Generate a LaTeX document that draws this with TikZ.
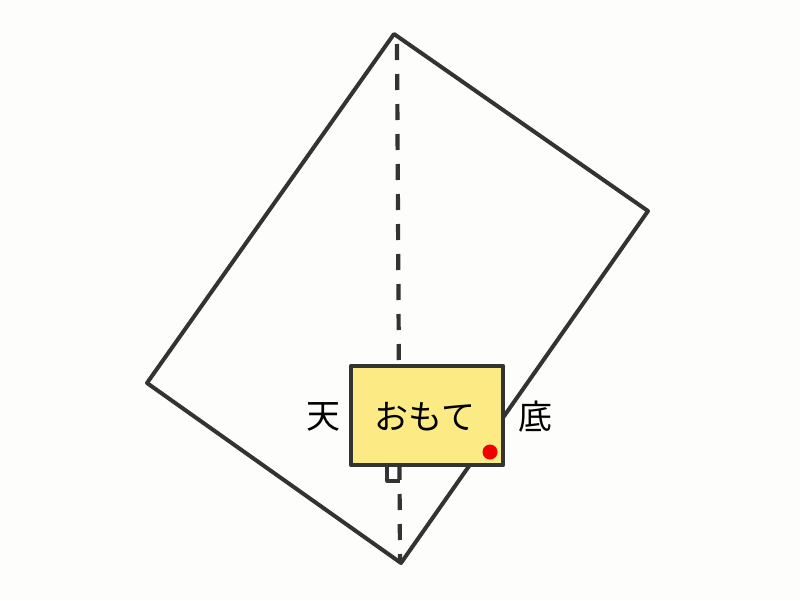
\documentclass[tikz,border=0pt]{standalone}
\usepackage{fontspec}
\newfontfamily\cjk{Noto Sans CJK JP}
\definecolor{ink}{HTML}{333333}
\definecolor{paper}{HTML}{FDFDFB}
\definecolor{cardfill}{HTML}{FCEB84}
\definecolor{dotred}{HTML}{F20000}
\tikzset{
  outline/.style={draw=ink, line width=4pt, line join=round, line cap=round},
  foldline/.style={draw=ink, line width=4.2pt, dash pattern=on 16pt off 14pt},
  card/.style={draw=ink, line width=4.4pt, fill=cardfill, line join=round},
  label/.style={font=\cjk\fontsize{34}{36}\selectfont, text=black, inner sep=0pt},
}
\begin{document}
\begin{tikzpicture}[x=1pt,y=-1pt]
\fill[paper] (0,0) rectangle (800,600);
\useasboundingbox (0,0) rectangle (800,600);
\coordinate (T) at (394,34);
\coordinate (R) at (648,211);
\coordinate (B) at (401,563);
\coordinate (L) at (147,383);
\draw[outline] (T) -- (R) -- (B) -- (L) -- cycle;
\draw[foldline] (397,44) -- (400,560);
\node[card, minimum width=152pt, minimum height=99pt, inner sep=0pt] (card) at (427,415.5) {};
\draw[ink, line width=3.2pt, line join=round] (387,467) -- (387,481) -- (400,481);
\node[label] (ten) at (323,417) {天};
\node[label] (omote) at (425,417) {おもて};
\node[label] (soko) at (535,417) {底};
\fill[dotred] (490,452) circle (7.5);
\end{tikzpicture}
\end{document}
